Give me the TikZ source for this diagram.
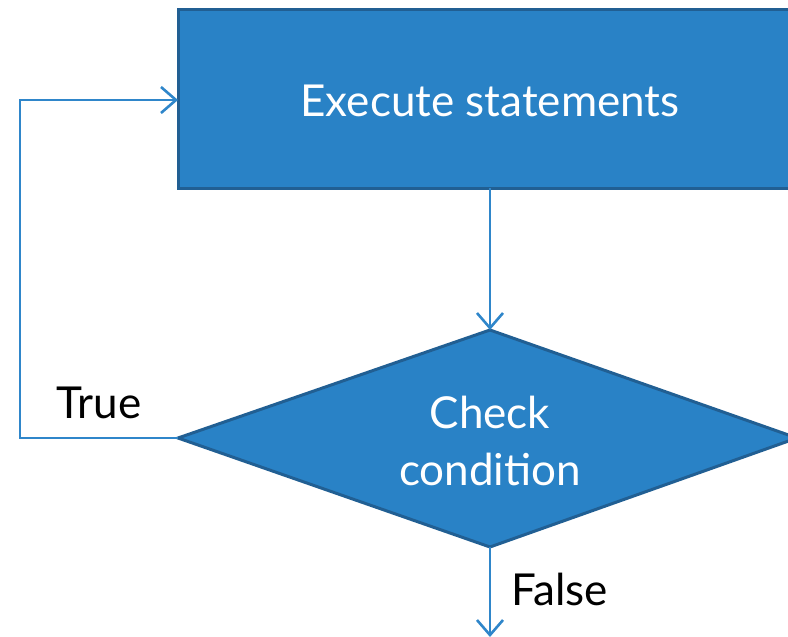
\documentclass[tikz,border=0pt]{standalone}
\usepackage{fontspec}
\setmainfont{Lato}
\usetikzlibrary{arrows.meta}
\definecolor{boxfill}{RGB}{41,130,198}
\definecolor{boxedge}{RGB}{33,95,147}
\definecolor{linkcol}{RGB}{47,134,202}
\tikzset{
  shapebox/.style={fill=boxfill, draw=boxedge, line width=3pt, line join=miter},
  flowarrow/.style={draw=linkcol, line width=2.6pt, arrows={-Straight Barb[length=15pt,width=26pt]}},
  boxtext/.style={text=white, font=\fontsize{44}{57}\selectfont, align=center},
  tag/.style={text=black, font=\fontsize{44}{52}\selectfont}
}
\begin{document}
\begin{tikzpicture}[x=1pt,y=-1pt]
  \useasboundingbox (0,0) rectangle (788,637);
  \clip (0,0) rectangle (788,637);
  % process box
  \draw[shapebox] (178,9) rectangle (810,188);
  \node[boxtext] (exec) at (490,101) {Execute statements};
  \coordinate (execW) at (178,100);
  \coordinate (execS) at (490,188);
  % decision diamond
  \coordinate (decW) at (178,438);
  \coordinate (decN) at (490,330);
  \coordinate (decE) at (797,438);
  \coordinate (decS) at (490,547);
  \draw[shapebox] (decW) -- (decN) -- (decE) -- (decS) -- cycle;
  \node[boxtext] (cond) at (490,441) {Check\\condition};
  % connectors
  \draw[flowarrow] (execS) -- (decN);
  \coordinate (loopA) at (20,438);
  \coordinate (loopB) at (20,100);
  \draw[flowarrow] (decW) -- (loopA) -- (loopB) -- (execW);
  \coordinate (exitEnd) at (490,637);
  \draw[flowarrow] (decS) -- (exitEnd);
  % labels
  \node[tag, anchor=base west] (truelbl) at (53,418) {True};
  \node[tag, anchor=base west] (falselbl) at (508,605) {False};
\end{tikzpicture}
\end{document}
